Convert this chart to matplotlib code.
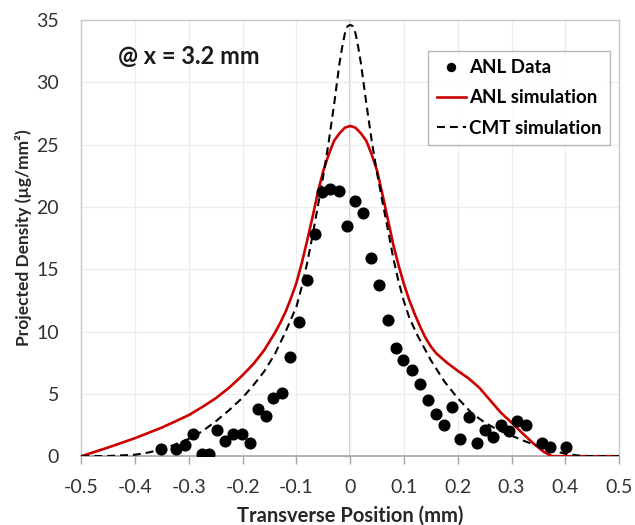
import matplotlib
matplotlib.use("Agg")
import matplotlib.pyplot as plt
import numpy as np

plt.rcParams['font.family'] = ['Lato', 'DejaVu Sans']

# ANL data points
data_x = [-0.352, -0.323, -0.307, -0.292, -0.276, -0.263, -0.247, -0.233, -0.218, -0.202,
          -0.187, -0.171, -0.156, -0.143, -0.127, -0.112, -0.096, -0.081, -0.066, -0.053,
          -0.037, -0.020, -0.006, 0.009, 0.024, 0.039, 0.054, 0.070, 0.085, 0.099,
          0.114, 0.129, 0.145, 0.160, 0.175, 0.190, 0.205, 0.220, 0.235, 0.250,
          0.265, 0.281, 0.296, 0.311, 0.326, 0.356, 0.371, 0.402]
data_y = [0.54, 0.54, 0.94, 1.76, 0.2, 0.16, 2.08, 1.23, 1.76, 1.76,
          1.07, 3.79, 3.25, 4.64, 5.1, 8.0, 10.8, 14.1, 17.8, 21.2,
          21.4, 21.3, 18.5, 20.5, 19.5, 15.9, 13.7, 10.9, 8.67, 7.74,
          6.89, 5.82, 4.48, 3.42, 2.53, 3.95, 1.36, 3.15, 1.1, 2.13,
          1.55, 2.48, 2.0, 2.8, 2.53, 1.07, 0.75, 0.7]

# ANL simulation
anl_x = [-0.5, -0.45, -0.4, -0.35, -0.3, -0.275, -0.25, -0.225, -0.2, -0.18, -0.16,
         -0.14, -0.13, -0.12, -0.11, -0.1, -0.09, -0.08, -0.07, -0.06, -0.05, -0.04,
         -0.03, -0.02, -0.01, 0.0, 0.01, 0.02, 0.03, 0.04, 0.05, 0.06, 0.07, 0.08,
         0.09, 0.1, 0.11, 0.12, 0.13, 0.14, 0.15, 0.16, 0.18, 0.2, 0.22, 0.24,
         0.26, 0.28, 0.3, 0.32, 0.34, 0.36, 0.375, 0.4, 0.5]
anl_y = [0.0, 0.7, 1.45, 2.3, 3.3, 3.95, 4.65, 5.5, 6.5, 7.4, 8.5,
         9.9, 10.7, 11.6, 12.7, 13.9, 15.5, 17.3, 19.2, 21.2, 22.9, 24.2,
         25.3, 25.9, 26.35, 26.5, 26.35, 25.9, 25.3, 24.2, 22.9, 21.0, 19.0, 17.0,
         15.3, 13.8, 12.5, 11.4, 10.4, 9.5, 8.8, 8.25, 7.5, 6.85, 6.25, 5.5,
         4.5, 3.5, 2.7, 1.85, 1.05, 0.35, 0.0, 0.0, 0.0]

# CMT simulation
cmt_x = [-0.5, -0.45, -0.4, -0.375, -0.35, -0.325, -0.3, -0.275, -0.25, -0.225, -0.2,
         -0.18, -0.16, -0.14, -0.12, -0.1, -0.09, -0.08, -0.07, -0.06, -0.05, -0.04,
         -0.03, -0.02, -0.015, -0.01, -0.005, 0.0, 0.005, 0.01, 0.015, 0.02, 0.03,
         0.04, 0.05, 0.06, 0.07, 0.08, 0.09, 0.1, 0.11, 0.125, 0.15, 0.175, 0.2,
         0.225, 0.25, 0.275, 0.3, 0.325, 0.35, 0.375, 0.4, 0.425, 0.45, 0.5]
cmt_y = [0.0, 0.02, 0.12, 0.3, 0.55, 0.95, 1.4, 2.0, 2.8, 3.7, 4.7,
         5.7, 6.8, 8.2, 10.0, 12.0, 13.6, 15.5, 17.7, 20.1, 22.5, 25.2,
         28.2, 31.5, 32.8, 33.9, 34.5, 34.6, 34.5, 33.9, 32.8, 31.5, 28.3,
         25.3, 22.7, 20.4, 18.2, 15.9, 14.0, 12.4, 11.1, 9.7, 7.7, 6.0, 4.65,
         3.5, 2.7, 2.1, 1.65, 1.2, 0.8, 0.45, 0.2, 0.05, 0.0, 0.0]

x_ticks = [-0.5, -0.4, -0.3, -0.2, -0.1, 0, 0.1, 0.2, 0.3, 0.4, 0.5]
x_tick_labels = ['-0.5', '-0.4', '-0.3', '-0.2', '-0.1', '0', '0.1', '0.2', '0.3', '0.4', '0.5']
y_ticks = [0, 5, 10, 15, 20, 25, 30, 35]

fig = plt.figure(figsize=(6.35, 5.25), dpi=100)
ax = fig.add_axes([0.128, 0.131, 0.847, 0.831])

ax.set_xlim(-0.5, 0.5)
ax.set_ylim(0, 35)
ax.set_xticks(x_ticks)
ax.set_xticklabels(x_tick_labels)
ax.set_yticks(y_ticks)

ax.grid(True, color='#ededed', linewidth=0.9)
ax.set_axisbelow(True)

for s in ['left', 'top', 'right']:
    ax.spines[s].set_color('#c8c8c8')
    ax.spines[s].set_linewidth(1.0)
ax.spines['bottom'].set_color('#a6a6a6')
ax.spines['bottom'].set_linewidth(1.2)

ax.tick_params(axis='x', direction='out', length=6, width=1, color='#a6a6a6',
               labelsize=14, labelcolor='#333333', pad=10.5)
ax.tick_params(axis='y', length=0, labelsize=14, labelcolor='#333333', pad=16)

# vertical axis crossing at x=0
sec = ax.secondary_yaxis(0.5)
for s in ['left', 'right']:
    sec.spines[s].set_color('#c8c8c8')
    sec.spines[s].set_linewidth(1.2)
sec.set_yticks(y_ticks)
sec.yaxis.set_ticks_position('left')
sec.tick_params(axis='y', direction='out', length=4, width=1, color='#bfbfbf',
                labelleft=False, labelright=False)

ax.plot(anl_x, anl_y, color='#cc0000', linewidth=1.9, label='ANL simulation', zorder=3)
ax.plot(cmt_x, cmt_y, color='black', linewidth=1.5, dashes=(3.8, 2.4),
        label='CMT simulation', zorder=4)
ax.plot(data_x, data_y, linestyle='none', marker='o', markersize=7.7,
        color='black', label='ANL Data', zorder=5)

handles, labels = ax.get_legend_handles_labels()
order = [2, 0, 1]
leg = ax.legend([handles[i] for i in order], [labels[i] for i in order],
                loc='upper right', bbox_to_anchor=(0.9835, 0.929),
                prop={'weight': 'bold', 'size': 13.5}, frameon=True, fancybox=False,
                edgecolor='#a6a6a6', handlelength=1.55, handletextpad=0.2,
                borderpad=0.45, labelspacing=0.7, markerscale=0.75,
                borderaxespad=0.0)
leg.get_frame().set_linewidth(1.0)

ax.text(-0.432, 32.1, '@ x = 3.2 mm', fontsize=17, fontweight='bold',
        ha='left', va='center', color='#1a1a1a')

ax.set_xlabel('Transverse Position (mm)', fontsize=14.5, fontweight='bold',
              color='#262626', labelpad=7)
ax.set_ylabel('Projected Density (µg/mm²)', fontsize=12.5, fontweight='bold',
              color='#262626', labelpad=3)

fig.savefig('out.png', dpi=100)
